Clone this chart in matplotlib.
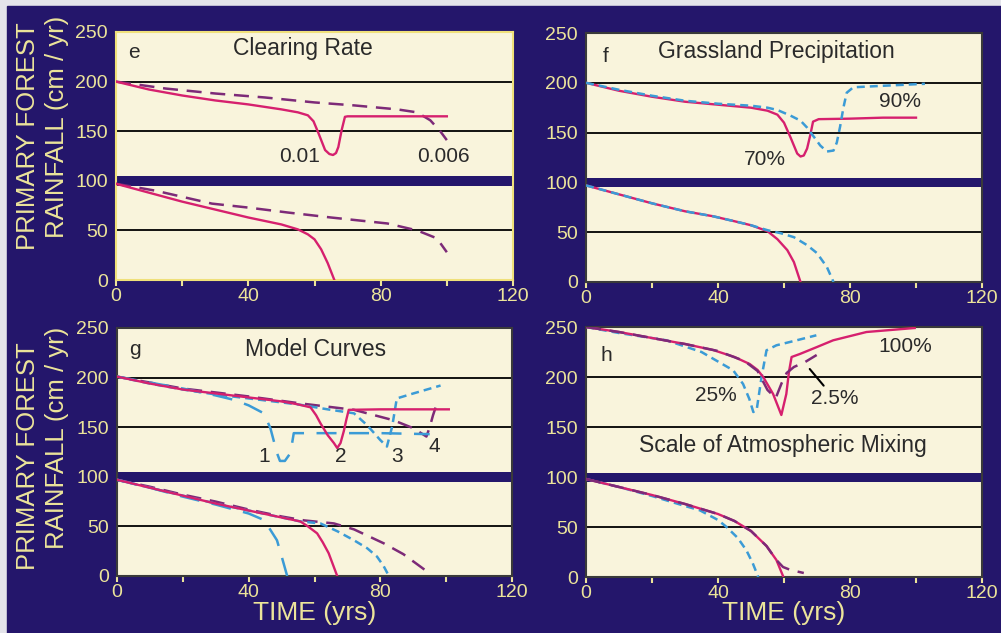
import matplotlib
matplotlib.use("Agg")
import matplotlib.pyplot as plt
from matplotlib.patches import Rectangle

plt.rcParams["font.family"] = ["Liberation Sans", "DejaVu Sans"]

NAVY = "#24166b"
CREAM = "#f9f4dc"
YEL = "#ece49a"
MAG = "#d6206e"
PUR = "#7d2a78"
BLUE = "#3b9bd6"
INK = "#2a2a2a"

x_ticks = [0, 20, 40, 60, 80, 100, 120]
x_labels = ["0", "", "40", "", "80", "", "120"]
y_ticks = [0, 50, 100, 150, 200, 250]
grid_y = [50, 150, 200]

# ---- panel e : clearing rate ----
e_up_t1 = [0, 10, 20, 30, 40, 50, 55, 58, 59.7, 61.2, 63.2, 64.5, 65.6, 66.5, 67.2, 68.2, 69.2, 70, 80, 90, 100]
e_up_v1 = [200, 192, 186, 181, 177, 172, 169, 166, 160, 148, 131, 127, 126, 128, 134, 151, 164.5, 165, 165, 165, 165]
e_up_t2 = [0, 15, 30, 45, 60, 72, 85, 91, 95, 98, 100]
e_up_v2 = [200, 193, 188, 184, 179, 176, 172, 169, 161, 150, 141]
e_lo_t1 = [0, 10, 20, 30, 40, 50, 55, 58, 60, 62, 64, 66]
e_lo_v1 = [97, 88, 79, 71, 63, 56, 51, 46, 41, 31, 17, 0]
e_lo_t2 = [0, 12, 29, 40, 52, 65, 82, 91, 97, 100]
e_lo_v2 = [97, 90, 77, 73, 68, 63, 57, 50, 42, 28]

# ---- panel f : grassland precipitation ----
f_up_t1 = [0, 10, 20, 30, 40, 50, 55, 58, 60, 62, 64, 65, 66, 67, 68, 68.8, 70.5, 80, 90, 100]
f_up_v1 = [200, 192, 186, 181, 178, 175, 172, 168, 160, 145, 129, 126, 127, 134, 148, 161, 163.5, 164, 165, 165]
f_up_t2 = [0, 10, 20, 30, 40, 50, 55, 58, 62, 65, 67, 69, 71, 73, 75, 76, 77, 78, 79, 81, 90, 102.7]
f_up_v2 = [200, 193, 187, 182, 179, 177, 175, 172.7, 167, 162, 155, 146, 137, 131, 132, 140, 156, 175, 190, 195.5, 197, 199]
f_lo_t1 = [0, 10, 20, 30, 38.5, 45, 50, 55, 58, 61, 63, 65]
f_lo_v1 = [97, 88, 79, 71, 66, 61, 57, 51, 43, 32, 20, 0]
f_lo_t2 = [0, 10, 20, 30, 38.5, 45, 50, 55, 59, 63, 67, 70, 73, 75]
f_lo_v2 = [97, 88, 79, 71, 66, 61, 57, 52, 49, 45, 37, 29, 15, 0]

# ---- panel g : model curves (1 long blue, 2 magenta, 3 short blue, 4 purple) ----
g_up_t1 = [0, 10, 20, 30, 35.5, 40, 44.6, 46.6, 48.6, 49.5, 51, 52.7, 53.7, 60, 70, 80, 95]
g_up_v1 = [201, 195, 189, 182, 177.6, 172, 164, 149, 124, 116, 116, 124, 144, 144, 144, 144, 143]
g_up_t2 = [0, 10, 20, 30, 40, 50, 55, 58.8, 60.5, 61.8, 64, 65.9, 66.9, 67.9, 68.9, 69.7, 70.4, 80, 90, 100.8]
g_up_v2 = [201, 194, 188, 184, 180, 176, 173, 170, 162, 154, 142, 134, 129, 134, 146, 158, 167.5, 168, 168, 168]
g_up_t3 = [0, 10, 20, 30, 40, 50, 55.7, 64, 72, 76, 80, 82, 83.6, 85, 90, 98.3]
g_up_v3 = [201, 194, 188, 183, 179, 175, 172.6, 168, 164, 152, 137, 130.5, 150.7, 179, 184, 192]
g_up_t4 = [0, 10, 20, 30, 40, 55.7, 72, 84, 90, 94, 95, 96, 97]
g_up_v4 = [201, 195, 189, 185, 181, 174, 167.5, 157, 149, 140.6, 150, 162, 172]
g_lo_t1 = [0, 10, 20, 30, 40, 44.6, 46.5, 48.6, 50, 51.7]
g_lo_v1 = [97, 89, 80, 72, 63, 56.5, 47, 36, 20, 0]
g_lo_t2 = [0, 10, 20, 30, 40, 50, 55.7, 58, 60.8, 62.5, 64.3, 66.9]
g_lo_v2 = [97, 89, 81, 73, 66, 59, 55, 50, 43, 34, 23, 0]
g_lo_t3 = [0, 10, 20, 30, 40, 50, 55.7, 61.8, 67, 72, 76, 79, 81, 82.6]
g_lo_v3 = [97, 89, 81, 73, 66, 59, 55, 53, 45, 36, 28, 19.5, 10, 0]
g_lo_t4 = [0, 10, 20, 30, 40, 50, 57, 65.9, 72, 81, 87, 92.2, 94]
g_lo_v4 = [97, 90, 82, 75, 67, 60, 56, 53, 47, 33, 22, 9.4, 5]

# ---- panel h : scale of atmospheric mixing ----
h_up_t1 = [0, 10, 20, 30, 38.5, 45, 49.6, 52, 53.7, 56.7, 59.2, 60.7, 61.5, 62.3, 64.8, 70, 74.9, 85, 99.6]
h_up_v1 = [250, 245, 239, 233, 227, 220, 213, 207, 200, 183, 162, 183, 205, 220, 223, 230, 236.7, 245, 249]
h_up_t2 = [0, 10, 24.4, 35, 44.6, 47.6, 49.5, 50.7, 51.7, 53.2, 54.7, 57.7, 63, 69.8]
h_up_v2 = [250, 244, 236.7, 225, 206.7, 193, 178, 165, 166.7, 200, 226.7, 231.7, 236, 241.7]
h_up_t3 = [0, 10, 20, 30, 40, 48, 52, 55, 57.5, 59.3, 60.8, 63, 66.4, 69.9]
h_up_v3 = [250, 245, 239, 233, 226, 216, 206, 187, 179, 194, 204, 210, 215, 222]
h_lo_t1 = [0, 10, 20, 30, 40, 45, 50, 54.7, 57.7, 59.7]
h_lo_v1 = [98, 90, 82, 73, 63, 56, 46, 31, 17, 1]
h_lo_t2 = [0, 10, 20, 30, 34.5, 40, 42.6, 46, 48.6, 50.5, 52.2]
h_lo_v2 = [98, 90, 81, 71, 66.7, 57, 50, 39, 26.7, 14, 0]
h_lo_t3 = [0, 10, 20, 30, 40, 45, 50, 54.7, 57.7, 59.7, 62, 66]
h_lo_v3 = [98, 90, 82, 73, 63, 56, 46, 31, 17, 10, 7, 4]

W, H = 1001, 633
fig = plt.figure(figsize=(W / 100, H / 100), dpi=100)
fig.patch.set_facecolor("#e4e4ea")
fig.add_artist(Rectangle((7 / W, 0), 1 - 7 / W, 1 - 6 / H, transform=fig.transFigure,
                         color=NAVY, zorder=0))


def add_ax(l, t, r, b, edge):
    ax = fig.add_axes([l / W, 1 - b / H, (r - l) / W, (b - t) / H])
    ax.set_facecolor(CREAM)
    ax.set_xlim(0, 120)
    ax.set_ylim(0, 250)
    for y in grid_y:
        ax.axhline(y, color="k", lw=1.3, zorder=1)
    ax.axhspan(95, 104.5, color=NAVY, lw=0, zorder=1.5)
    ax.set_xticks(x_ticks)
    ax.set_xticklabels(x_labels)
    ax.set_yticks(y_ticks)
    ax.tick_params(axis="x", colors=YEL, direction="out", length=4, width=1.5, pad=2, labelsize=14)
    ax.tick_params(axis="y", colors=YEL, length=0, pad=6, labelsize=14)
    for s in ax.spines.values():
        s.set_color(edge)
        s.set_linewidth(1.5)
    return ax


def solid(ax, t, v):
    ax.plot(t, v, color=MAG, lw=1.7, zorder=3)


def dashed(ax, t, v, c, d):
    ax.plot(t, v, color=c, lw=1.8, dashes=d, zorder=3)


lab = dict(ha="center", va="center", color=INK, fontsize=15)
ttl = dict(ha="center", va="center", color=INK, fontsize=16.5)

# e
ax = add_ax(116, 32, 513, 280, "#f0e07a")
dashed(ax, e_up_t2, e_up_v2, PUR, (6, 3.5))
dashed(ax, e_lo_t2, e_lo_v2, PUR, (6, 3.5))
solid(ax, e_up_t1, e_up_v1)
solid(ax, e_lo_t1, e_lo_v1)
ax.text(5.3, 229, "e", **lab)
ax.text(56.6, 233, "Clearing Rate", **ttl)
ax.text(55.6, 124, "0.01", **lab)
ax.text(99, 124, "0.006", **lab)

# f
ax = add_ax(586, 33, 982, 282, "#3a3a3a")
solid(ax, f_up_t1, f_up_v1)
solid(ax, f_lo_t1, f_lo_v1)
dashed(ax, f_up_t2, f_up_v2, BLUE, (3.2, 2))
dashed(ax, f_lo_t2, f_lo_v2, BLUE, (3.2, 2))
ax.text(5.8, 226, "f", **lab)
ax.text(57.6, 231, "Grassland Precipitation", **ttl)
ax.text(95.2, 181, "90%", **lab)
ax.text(54.2, 122.5, "70%", **lab)

# g
ax = add_ax(117, 328, 512, 576, "#3a3a3a")
dashed(ax, g_up_t4, g_up_v4, PUR, (6, 3.5))
dashed(ax, g_lo_t4, g_lo_v4, PUR, (6, 3.5))
dashed(ax, g_up_t1, g_up_v1, BLUE, (8, 5))
dashed(ax, g_lo_t1, g_lo_v1, BLUE, (8, 5))
dashed(ax, g_up_t3, g_up_v3, BLUE, (3.2, 2))
dashed(ax, g_lo_t3, g_lo_v3, BLUE, (3.2, 2))
solid(ax, g_up_t2, g_up_v2)
solid(ax, g_lo_t2, g_lo_v2)
ax.text(5.6, 228, "g", **lab)
ax.text(60.3, 228, "Model Curves", **ttl)
for s, tx, ty in [("1", 44.6, 120), ("2", 68, 120), ("3", 85, 120), ("4", 96.3, 130.5)]:
    ax.text(tx, ty, s, **lab)

# h
ax = add_ax(586, 327, 982, 577, "#3a3a3a")
dashed(ax, h_up_t2, h_up_v2, BLUE, (3.2, 2))
dashed(ax, h_lo_t2, h_lo_v2, BLUE, (3.2, 2))
solid(ax, h_up_t1, h_up_v1)
solid(ax, h_lo_t1, h_lo_v1)
dashed(ax, h_up_t3, h_up_v3, PUR, (6, 3.5))
dashed(ax, h_lo_t3, h_lo_v3, PUR, (6, 3.5))
ax.text(6.3, 221.7, "h", **lab)
ax.text(39.3, 181.7, "25%", **lab)
ax.text(96.6, 230, "100%", **lab)
ax.annotate("2.5%", xy=(67.8, 208), xytext=(75.4, 178), arrowprops=dict(arrowstyle="-", color="k", lw=1.5, shrinkA=1, shrinkB=0), **lab)
ax.text(59.7, 131.7, "Scale of Atmospheric Mixing", **ttl)

# axis labels
for cy1, cy2 in [(136, 127), (456, 438)]:
    fig.text(28 / W, 1 - cy1 / H, "PRIMARY FOREST", rotation=90, ha="center", va="center", color=YEL, fontsize=18.5)
    fig.text(57 / W, 1 - cy2 / H, "RAINFALL (cm / yr)", rotation=90, ha="center", va="center", color=YEL, fontsize=18.5)
for cx in [315, 784]:
    fig.text(cx / W, 1 - 613 / H, "TIME (yrs)", ha="center", va="center", color=YEL, fontsize=19)

fig.savefig("out.png", dpi=100, facecolor=fig.get_facecolor())
